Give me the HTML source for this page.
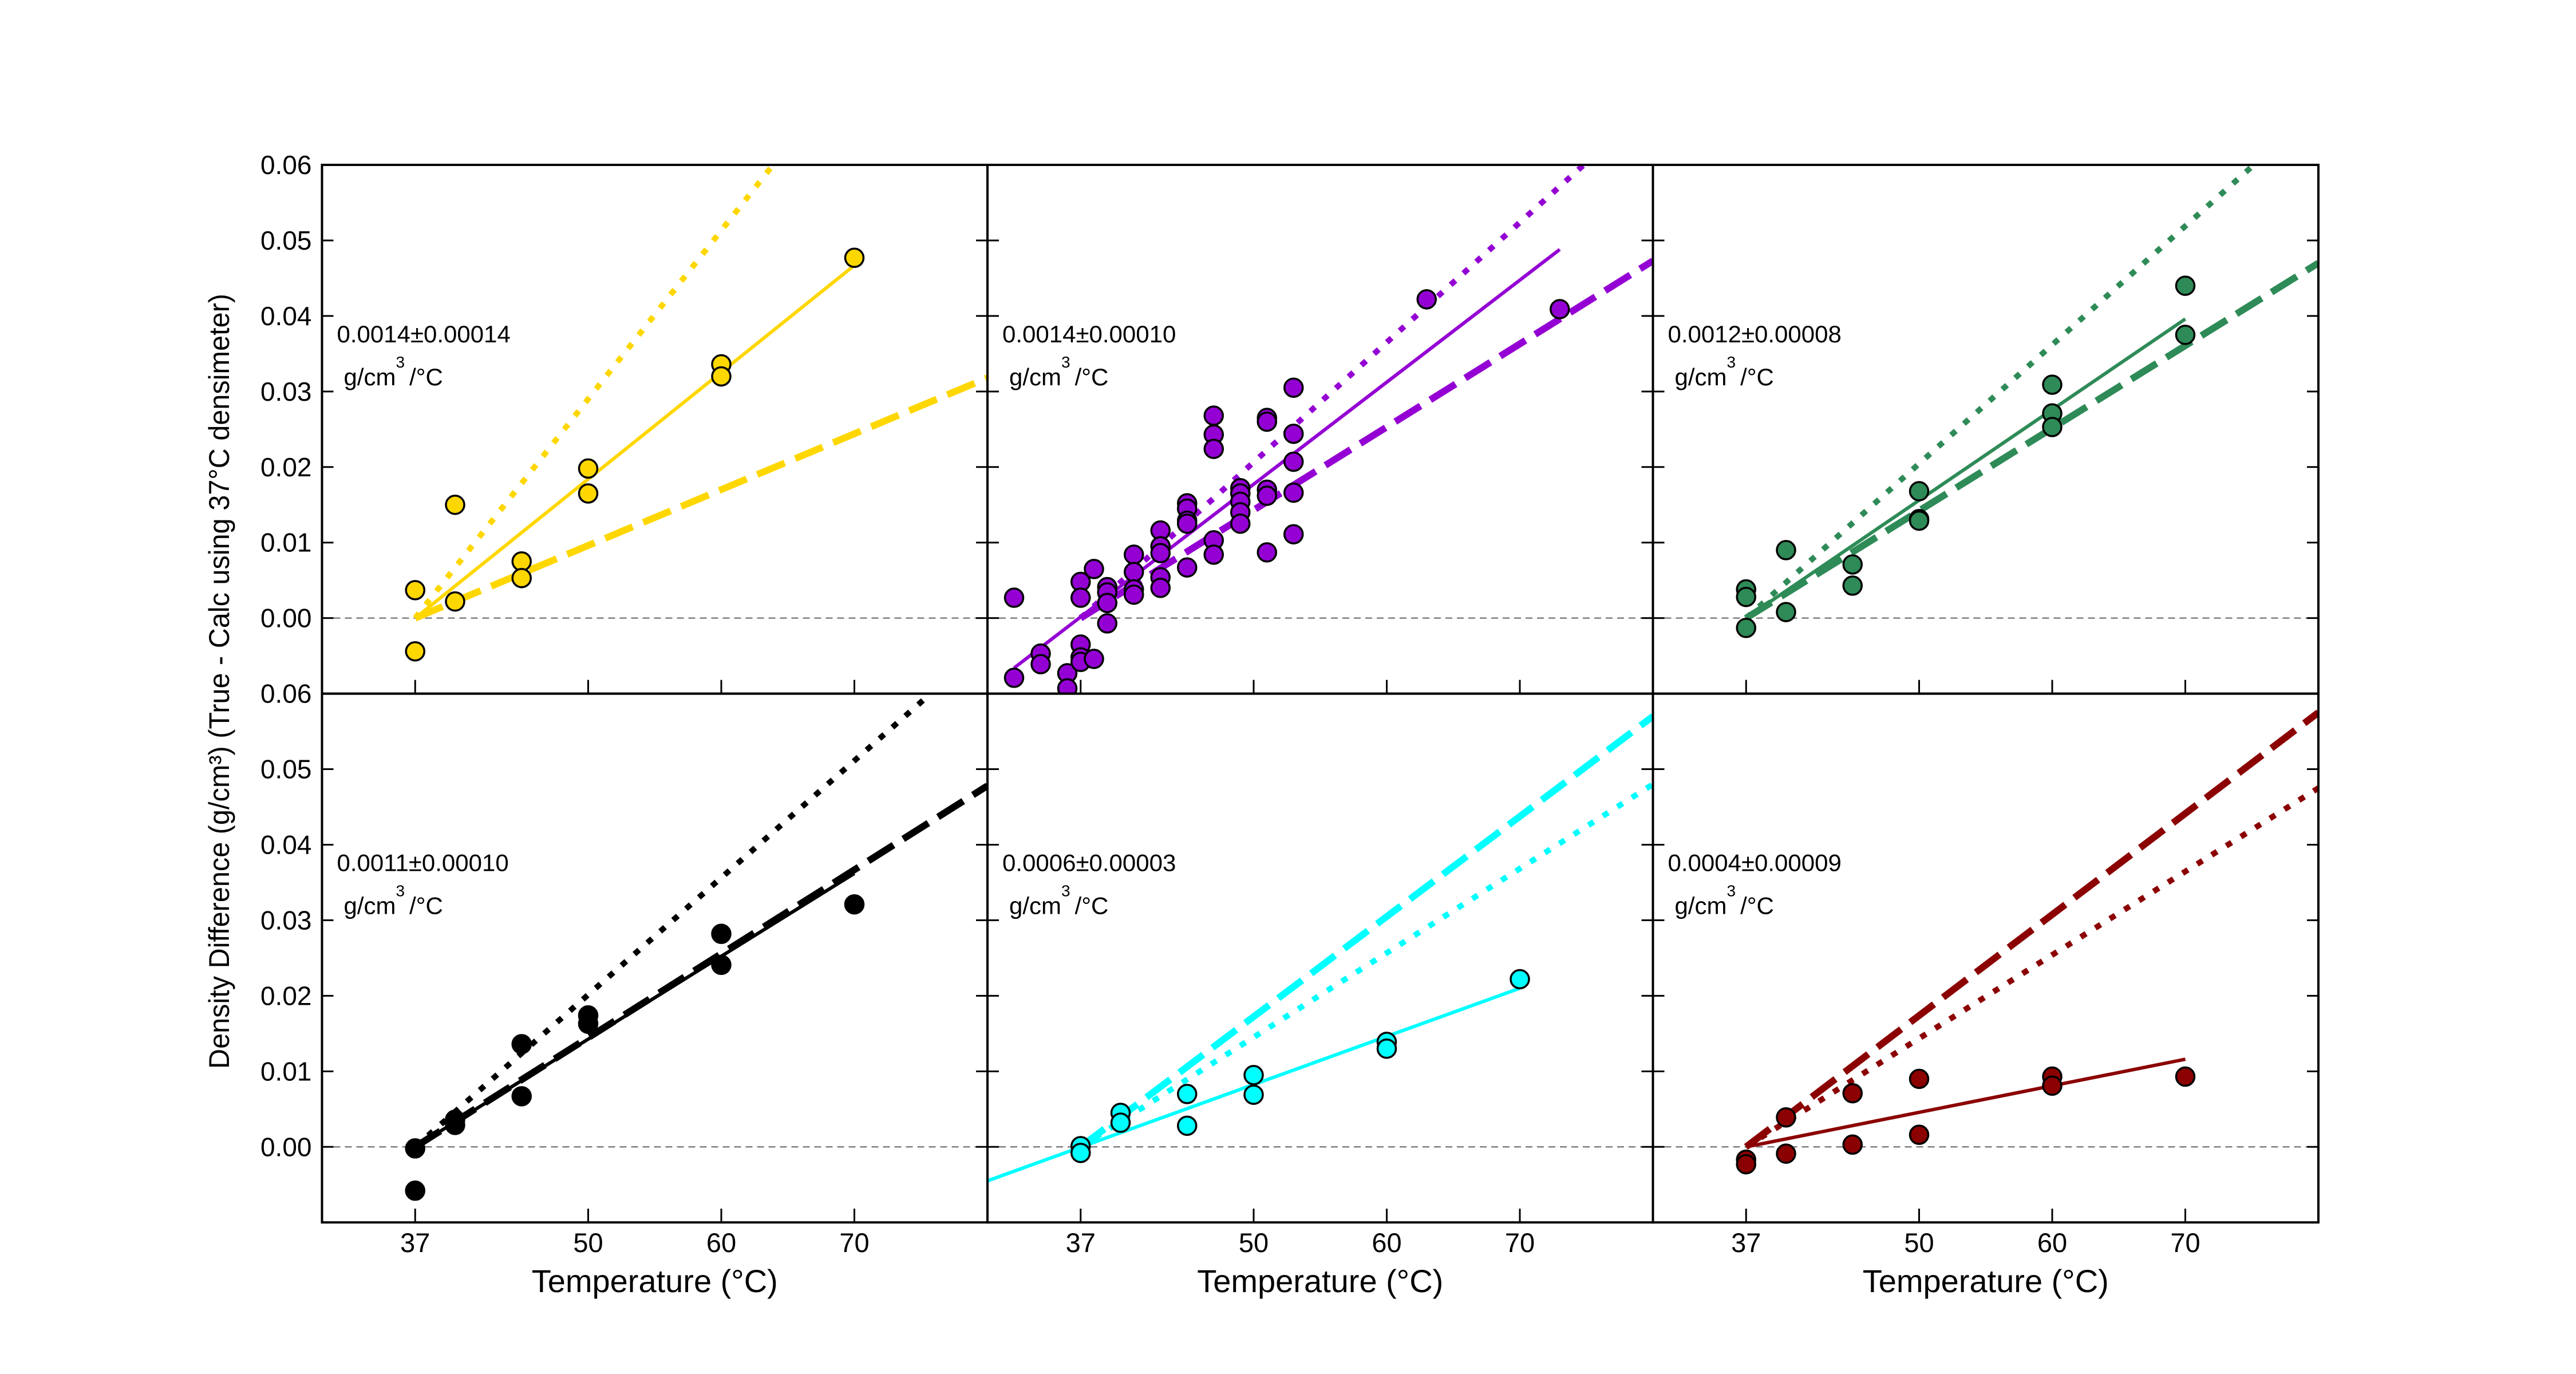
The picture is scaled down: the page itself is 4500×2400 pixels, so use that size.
<!DOCTYPE html>
<html><head><meta charset="utf-8"><style>
html,body{margin:0;padding:0;background:#fff;}
svg{display:block;font-family:"Liberation Sans",Arial,sans-serif;}
</style></head><body>
<svg id="chart" width="4500" height="2400" viewBox="0 0 4500 2400" xmlns="http://www.w3.org/2000/svg">
<rect x="0" y="0" width="4500" height="2400" fill="#fff"/>
<g id="content"></g>
<text x="0" y="0" transform="translate(400,1190) rotate(-90)" text-anchor="middle" font-size="50" textLength="1354" lengthAdjust="spacingAndGlyphs">Density Difference (g/cm³) (True - Calc using 37°C densimeter)</text>
</svg>
<script>
// ---- data ----
const xTicks = [37, 50, 60, 70];
const yTicks = [0.00, 0.01, 0.02, 0.03, 0.04, 0.05, 0.06];
const yTickLabels = ["0.00","0.01","0.02","0.03","0.04","0.05","0.06"];
const xDomain = [30, 80];
const yDomain = [-0.01, 0.06];

const panelNames = ["yellow","purple","green","black","cyan","darkred"];
const panelColors = ["#FFD700","#9400D3","#2E8B57","#000000","#00FFFF","#8B0000"];
const slopeLabels = ["0.0014±0.00014","0.0014±0.00010","0.0012±0.00008","0.0011±0.00010","0.0006±0.00003","0.0004±0.00009"];

const yellowT = [37,37,40,40,45,45,50,50,60,60,70];
const yellowV = [0.0037,-0.0044,0.0150,0.0022,0.0075,0.0053,0.0198,0.0165,0.0336,0.0320,0.0477];
const purpleT = [32,32,34,34,36,36,37,37,37,37,37,38,38,39,39,39,39,41,41,41,41,43,43,43,43,43,45,45,45,45,45,47,47,47,47,47,49,49,49,49,49,51,51,51,51,51,53,53,53,53,53,63,73];
const purpleV = [0.0027,-0.0079,-0.0047,-0.0061,-0.0073,-0.0093,0.0048,0.0027,-0.0035,-0.0052,-0.0058,0.0065,-0.0054,0.0041,0.0034,0.0020,-0.0007,0.0084,0.0061,0.0038,0.0031,0.0116,0.0095,0.0086,0.0054,0.0040,0.0152,0.0145,0.0129,0.0125,0.0067,0.0268,0.0243,0.0224,0.0103,0.0084,0.0172,0.0165,0.0154,0.0140,0.0125,0.0265,0.0260,0.0170,0.0162,0.0087,0.0305,0.0244,0.0207,0.0166,0.0111,0.0422,0.0409];
const greenT = [37,37,37,40,40,45,45,50,50,50,60,60,60,70,70];
const greenV = [0.0038,0.0028,-0.0013,0.0090,0.0008,0.0071,0.0043,0.0168,0.0131,0.0129,0.0309,0.0271,0.0253,0.0440,0.0375];
const blackT = [37,37,40,40,45,45,50,50,60,60,70];
const blackV = [-0.0002,-0.0058,0.0036,0.0029,0.0136,0.0067,0.0174,0.0163,0.0282,0.0241,0.0321];
const cyanT = [37,37,40,40,45,45,50,50,60,60,70];
const cyanV = [0.0001,-0.0008,0.0045,0.0032,0.0070,0.0028,0.0095,0.0069,0.0139,0.0130,0.0222];
const redT = [37,37,40,40,45,45,50,50,60,60,70];
const redV = [-0.0017,-0.0023,0.0039,-0.0009,0.0071,0.0003,0.0090,0.0016,0.0093,0.0081,0.0093];

// fit lines: [t0, v0, t1, v1] in data units
const solidLines = [[37,0,70,0.0467],[32,-0.0066,73,0.0488],[37,0,70,0.0396],[37,0,70,0.0362],[30,-0.0045,70,0.0210],[37,0,70,0.0116]];
const dashedLines = [[37,0,80,0.0318],[37,0,80,0.0473],[37,0,80,0.0470],[37,0,80,0.0478],[37,0,80,0.0570],[37,0,80,0.0575]];
const dottedLines = [[37,0,63.8,0.0598],[37,0,74.8,0.0600],[37,0,75.15,0.0600],[37,0,75.6,0.0598],[37,0,80,0.0480],[37,0,80,0.0475]];

const seriesT = [yellowT,purpleT,greenT,blackT,cyanT,redT];
const seriesV = [yellowV,purpleV,greenV,blackV,cyanV,redV];

// ---- layout ----
const colLeft = [562.5,1725,2887.5], panelW = 1162.5;
const rowTop = [288,1211.6], panelH = 923.6;
const NS = "http://www.w3.org/2000/svg";
const root = document.getElementById('content');
function mk(tag, attrs, parent){ const e=document.createElementNS(NS,tag); for(const k in attrs) e.setAttribute(k,attrs[k]); (parent||root).appendChild(e); return e; }

const defs = mk('defs',{});
for(let p=0;p<6;p++){
  const c=p%3, r=Math.floor(p/3);
  const L=colLeft[c], T=rowTop[r];
  const xs = t => L + (t-xDomain[0])/(xDomain[1]-xDomain[0])*panelW;
  const ys = v => T + (yDomain[1]-v)/(yDomain[1]-yDomain[0])*panelH;
  const cp = mk('clipPath',{id:'clip'+p},defs);
  mk('rect',{x:L,y:T,width:panelW,height:panelH},cp);

  const g = mk('g',{});
  
  
  const inner = mk('g',{'clip-path':'url(#clip'+p+')'},g);

  const zl = mk('line',{x1:L,x2:L+panelW,y1:ys(0),y2:ys(0),stroke:'#808080','stroke-width':2.5,'stroke-dasharray':'12 8'},inner);
  
  

  const col = panelColors[p];
  const dl = dottedLines[p];
  const ld = mk('line',{x1:xs(dl[0]),y1:ys(dl[1]),x2:xs(dl[2]),y2:ys(dl[3]),stroke:col,'stroke-width':10,'stroke-dasharray':'11 19'},inner);
  
  
  const da = dashedLines[p];
  const lda = mk('line',{x1:xs(da[0]),y1:ys(da[1]),x2:xs(da[2]),y2:ys(da[3]),stroke:col,'stroke-width':12,'stroke-dasharray':'52 20'},inner);
  
  
  const so = solidLines[p];
  const ls = mk('line',{x1:xs(so[0]),y1:ys(so[1]),x2:xs(so[2]),y2:ys(so[3]),stroke:col,'stroke-width':6},inner);
  
  

  const tt=seriesT[p], vv=seriesV[p];
  for(let i=0;i<tt.length;i++){
    const m = mk('circle',{cx:xs(tt[i]),cy:ys(vv[i]),r:16,fill:col,stroke:'#000','stroke-width':3.5},inner);
    
    
  }

  // frame
  const fr = mk('rect',{x:L,y:T,width:panelW,height:panelH,fill:'none',stroke:'#000','stroke-width':4},g);
  
  

  // y ticks (inward both sides)
  for(let k=0;k<yTicks.length;k++){
    const y=ys(yTicks[k]);
    mk('line',{x1:L,x2:L+20,y1:y,y2:y,stroke:'#000','stroke-width':3},g);
    mk('line',{x1:L+panelW-20,x2:L+panelW,y1:y,y2:y,stroke:'#000','stroke-width':3},g);
    if(c===0){
      const tl = mk('text',{x:L-18,y:y+16,'text-anchor':'end','font-size':46},g);
      tl.textContent = yTickLabels[k];
      
      
    }
  }
  // x ticks (inward at bottom)
  for(let k=0;k<xTicks.length;k++){
    const x=xs(xTicks[k]);
    mk('line',{x1:x,x2:x,y1:T+panelH-24,y2:T+panelH,stroke:'#000','stroke-width':3},g);
    if(r===1){
      const xl = mk('text',{x:x,y:T+panelH+52,'text-anchor':'middle','font-size':47},g);
      xl.textContent = String(xTicks[k]);
      
      
    }
  }
  if(r===1){
    const xt = mk('text',{x:L+panelW/2,y:T+panelH+122,'text-anchor':'middle','font-size':56},g);
    xt.textContent = 'Temperature (°C)';
    
    
  }
  // annotation
  const a1 = mk('text',{x:L+26,y:T+310,'font-size':42},g);
  a1.textContent = slopeLabels[p];
  
  
  const a2 = mk('text',{x:L+38,y:T+385,'font-size':42},g);
  
  
  a2.appendChild(document.createTextNode('g/cm'));
  const sup = mk('tspan',{dy:-31,'font-size':28},a2);
  sup.textContent='3';
  const rest = mk('tspan',{dy:31,dx:8},a2);
  rest.textContent='/°C';
}
</script>
</body></html>
